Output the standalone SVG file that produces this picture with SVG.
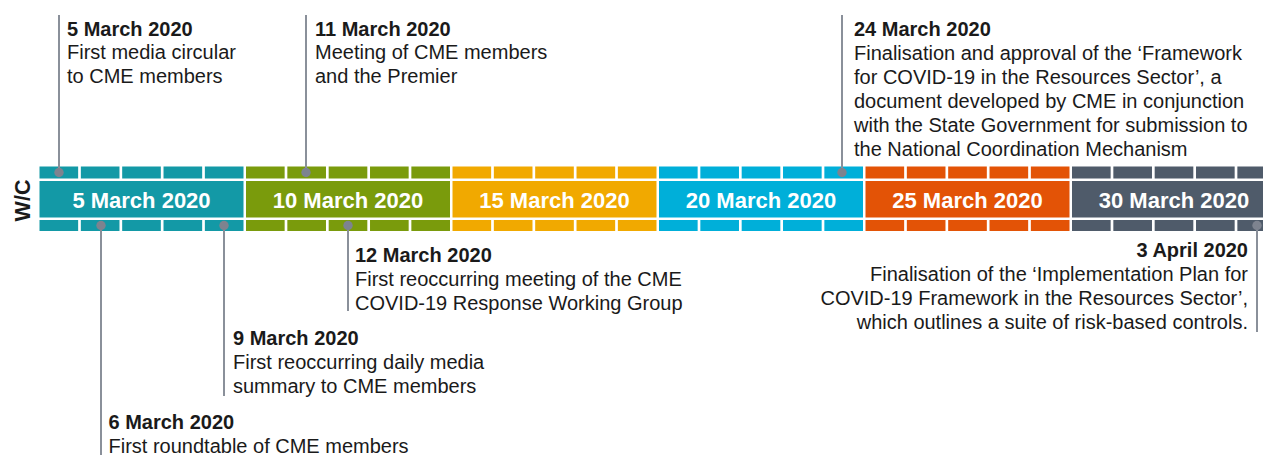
<svg xmlns="http://www.w3.org/2000/svg" xmlns:xlink="http://www.w3.org/1999/xlink" width="1263" height="455" viewBox="0 0 1263 455">
  <style>
    .lbl { font-family: "Liberation Sans", Arial, sans-serif; font-size: 20px; fill: #1a1a1a; }
    .hd { font-weight: bold; }
    .wk { font-family: "Liberation Sans", Arial, sans-serif; font-size: 22px; font-weight: bold; fill: #ffffff; text-anchor: middle; }
    .wc { font-family: "Liberation Sans", Arial, sans-serif; font-size: 21.5px; font-weight: bold; fill: #1a1a1a; text-anchor: middle; }
    .ln { stroke: #8a909a; stroke-width: 2; fill: none; }
    .dot { fill: #7d838f; }
    .teal { fill: #1399a6; }
    .green { fill: #7a9b0c; }
    .amber { fill: #f1a900; }
    .cyan { fill: #00afd9; }
    .orange { fill: #e35306; }
    .slate { fill: #4f5b6a; }
  </style>
  <defs>
    <g id="seg">
      <rect x="0" y="166.5" width="38.64" height="12"/>
      <rect x="41.34" y="166.5" width="38.64" height="12"/>
      <rect x="82.68" y="166.5" width="38.64" height="12"/>
      <rect x="124.02" y="166.5" width="38.64" height="12"/>
      <rect x="165.36" y="166.5" width="38.64" height="12"/>
      <rect x="0" y="181" width="204" height="36.5"/>
      <rect x="0" y="220" width="38.64" height="11"/>
      <rect x="41.34" y="220" width="38.64" height="11"/>
      <rect x="82.68" y="220" width="38.64" height="11"/>
      <rect x="124.02" y="220" width="38.64" height="11"/>
      <rect x="165.36" y="220" width="38.64" height="11"/>
    </g>
  </defs>
  <rect width="1263" height="455" fill="#ffffff"/>

  <text class="wc" transform="translate(29.5,200.5) rotate(-90)">W/C</text>

  <g id="week-5-march">
    <use xlink:href="#seg" href="#seg" x="39.5" class="teal"/>
    <text class="wk" x="141.5" y="207.5">5 March 2020</text>
  </g>
  <g id="week-10-march">
    <use xlink:href="#seg" href="#seg" x="246" class="green"/>
    <text class="wk" x="348" y="207.5">10 March 2020</text>
  </g>
  <g id="week-15-march">
    <use xlink:href="#seg" href="#seg" x="452.5" class="amber"/>
    <text class="wk" x="554.5" y="207.5">15 March 2020</text>
  </g>
  <g id="week-20-march">
    <use xlink:href="#seg" href="#seg" x="659" class="cyan"/>
    <text class="wk" x="761" y="207.5">20 March 2020</text>
  </g>
  <g id="week-25-march">
    <use xlink:href="#seg" href="#seg" x="865.5" class="orange"/>
    <text class="wk" x="967.5" y="207.5">25 March 2020</text>
  </g>
  <g id="week-30-march">
    <use xlink:href="#seg" href="#seg" x="1072" class="slate"/>
    <text class="wk" x="1174" y="207.5">30 March 2020</text>
  </g>

  <g id="connectors">
    <line class="ln" x1="59" y1="15" x2="59" y2="172.5"/>
    <line class="ln" x1="306" y1="15" x2="306" y2="172.5"/>
    <line class="ln" x1="842" y1="15" x2="842" y2="172.5"/>
    <line class="ln" x1="101" y1="225" x2="101" y2="455"/>
    <line class="ln" x1="224" y1="225" x2="224" y2="396"/>
    <line class="ln" x1="348" y1="225" x2="348" y2="311"/>
    <line class="ln" x1="1257" y1="225" x2="1257" y2="332"/>
    <circle class="dot" cx="59" cy="172.5" r="4.7"/>
    <circle class="dot" cx="306" cy="172.5" r="4.7"/>
    <circle class="dot" cx="842" cy="172.5" r="4.7"/>
    <circle class="dot" cx="101" cy="225.5" r="4.7"/>
    <circle class="dot" cx="224" cy="225.5" r="4.7"/>
    <circle class="dot" cx="348" cy="225.5" r="4.7"/>
    <circle class="dot" cx="1257" cy="225.5" r="4.7"/>
  </g>

  <g id="event-5-march">
    <text class="lbl" x="67" y="35.5"><tspan class="hd">5 March 2020</tspan><tspan x="67" dy="23.8">First media circular</tspan><tspan x="67" dy="23.8">to CME members</tspan></text>
  </g>
  <g id="event-11-march">
    <text class="lbl" x="315" y="35.5"><tspan class="hd">11 March 2020</tspan><tspan x="315" dy="23.8">Meeting of CME members</tspan><tspan x="315" dy="23.8">and the Premier</tspan></text>
  </g>
  <g id="event-24-march">
    <text class="lbl" x="854" y="35.5"><tspan class="hd">24 March 2020</tspan><tspan x="854" dy="24">Finalisation and approval of the ‘Framework</tspan><tspan x="854" dy="24">for COVID-19 in the Resources Sector’, a</tspan><tspan x="854" dy="24">document developed by CME in conjunction</tspan><tspan x="854" dy="24">with the State Government for submission to</tspan><tspan x="854" dy="24">the National Coordination Mechanism</tspan></text>
  </g>
  <g id="event-12-march">
    <text class="lbl" x="355" y="262"><tspan class="hd">12 March 2020</tspan><tspan x="355" dy="23.8">First reoccurring meeting of the CME</tspan><tspan x="355" dy="23.8">COVID-19 Response Working Group</tspan></text>
  </g>
  <g id="event-9-march">
    <text class="lbl" x="233" y="345"><tspan class="hd">9 March 2020</tspan><tspan x="233" dy="23.8">First reoccurring daily media</tspan><tspan x="233" dy="23.8">summary to CME members</tspan></text>
  </g>
  <g id="event-6-march">
    <text class="lbl" x="108.5" y="429"><tspan class="hd">6 March 2020</tspan><tspan x="108.5" dy="23.8">First roundtable of CME members</tspan></text>
  </g>
  <g id="event-3-april">
    <text class="lbl" x="1248" y="257" text-anchor="end"><tspan class="hd">3 April 2020</tspan><tspan x="1248" dy="24">Finalisation of the ‘Implementation Plan for</tspan><tspan x="1248" dy="24">COVID-19 Framework in the Resources Sector’,</tspan><tspan x="1248" dy="24">which outlines a suite of risk-based controls.</tspan></text>
  </g>
</svg>
